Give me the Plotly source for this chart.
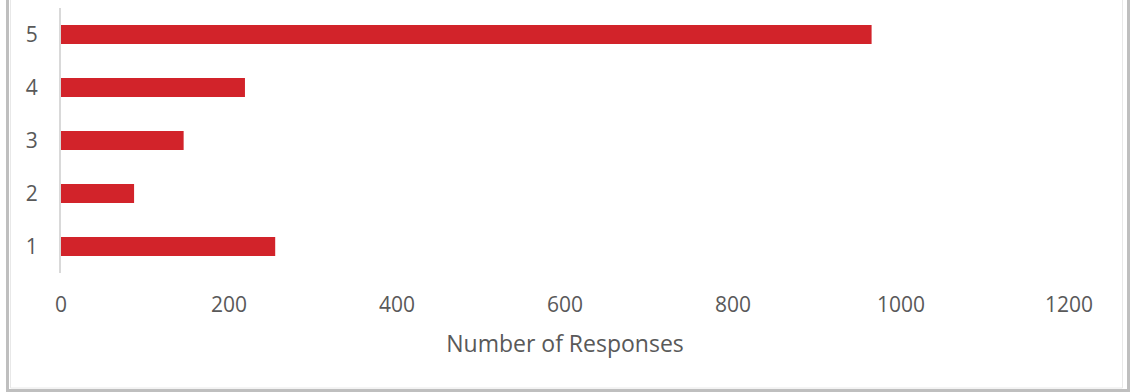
import plotly.graph_objects as go

categories = ["1", "2", "3", "4", "5"]
responses = [255, 87, 146, 219, 965]
x_ticks = [0, 200, 400, 600, 800, 1000, 1200]

W, H = 1131, 392
L, R, T, B = 61, 62, 8, 119
pw, ph = W - L - R, H - T - B

def px(x):
    return (x - L) / pw

def py(y):
    return (H - B - y) / ph

fig = go.Figure()
fig.add_trace(go.Bar(
    y=categories, x=responses, orientation="h",
    marker=dict(color="#d2232a", line=dict(width=0)),
))

font = "Open Sans"
fig.update_layout(
    width=W, height=H,
    margin=dict(l=L, r=R, t=T, b=B),
    paper_bgcolor="white", plot_bgcolor="white",
    bargap=0.64, showlegend=False,
    font=dict(family=font, color="#595959", size=21),
    xaxis=dict(range=[0, 1200], tickvals=x_ticks, showgrid=False, zeroline=False,
               showline=False, ticks="", ticklabelstandoff=17,
               tickfont=dict(size=21, color="#595959"),
               title=dict(text="Number of Responses", standoff=18,
                          font=dict(size=23, color="#595959"))),
    yaxis=dict(type="category", categoryorder="array", categoryarray=categories,
               showgrid=False, zeroline=False, showline=True, linecolor="#d9d9d9",
               linewidth=2, ticks="", ticklabelstandoff=17,
               tickfont=dict(size=21, color="#595959")),
    shapes=[
        dict(type="rect", xref="paper", yref="paper",
             x0=px(7.5), x1=px(1128.5), y0=py(390.5), y1=py(-10),
             line=dict(color="#bfbfbf", width=3)),
        dict(type="rect", xref="paper", yref="paper",
             x0=px(10.5), x1=px(1122.5), y0=py(388), y1=py(-10),
             line=dict(color="#e8e8e8", width=1)),
    ],
)

fig.write_html("out.html")
